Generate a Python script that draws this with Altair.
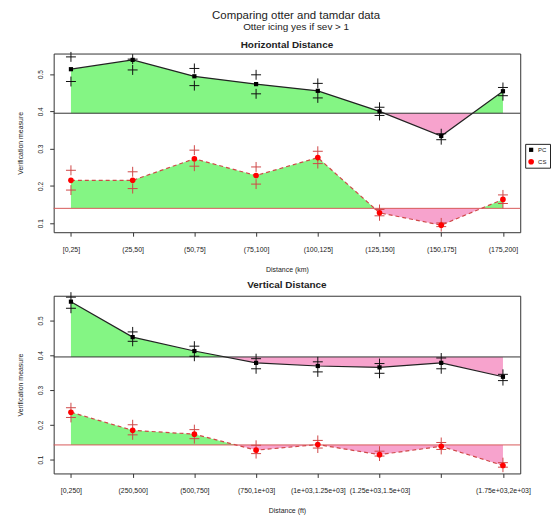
import json
import altair as alt
import pandas as pd

# ---------------- data ----------------
h_labels = ["[0,25]", "(25,50]", "(50,75]", "(75,100]", "(100,125]",
            "(125,150]", "(150,175]", "(175,200]"]
# R dropped the 7th label of the lower panel (overlap), so it is blank here
v_labels = ["[0,250]", "(250,500]", "(500,750]", "(750,1e+03]", "(1e+03,1.25e+03]",
            "(1.25e+03,1.5e+03]", "", "(1.75e+03,2e+03]"]

h_pc = [0.513, 0.538, 0.494, 0.473, 0.455, 0.400, 0.334, 0.454]
h_pc_hi = [0.546, 0.540, 0.515, 0.498, 0.475, 0.411, 0.340, 0.464]
h_pc_lo = [0.480, 0.511, 0.469, 0.447, 0.436, 0.389, 0.324, 0.442]
h_cs = [0.215, 0.215, 0.273, 0.228, 0.276, 0.128, 0.095, 0.164]
h_cs_hi = [0.242, 0.238, 0.296, 0.251, 0.293, 0.137, 0.101, 0.176]
h_cs_lo = [0.189, 0.193, 0.253, 0.205, 0.260, 0.120, 0.091, 0.153]
h_ref_pc = 0.395
h_ref_cs = 0.140

v_pc = [0.554, 0.452, 0.412, 0.378, 0.369, 0.365, 0.378, 0.338]
v_pc_hi = [0.567, 0.467, 0.426, 0.390, 0.381, 0.376, 0.392, 0.345]
v_pc_lo = [0.535, 0.440, 0.397, 0.361, 0.352, 0.348, 0.361, 0.327]
v_cs = [0.236, 0.184, 0.173, 0.127, 0.143, 0.114, 0.138, 0.083]
v_cs_hi = [0.249, 0.200, 0.186, 0.141, 0.155, 0.124, 0.149, 0.091]
v_cs_lo = [0.221, 0.171, 0.160, 0.117, 0.133, 0.110, 0.129, 0.078]
v_ref_pc = 0.395
v_ref_cs = 0.142

series_names = ["PC", "CS"]

# ---------------- styles ----------------
GREEN = "#84F584"
PINK = "#F7A3CD"
CS_RED = "#D04848"
CROSS = "M-1,0L1,0M0,-1L0,1"
FONT = "Liberation Sans"


def series_df(vals, lo, hi, name):
    return pd.DataFrame({"x": list(range(1, len(vals) + 1)), "v": vals,
                         "lo": lo, "hi": hi, "series": name})


def fill_df(vals, ref):
    xs, vs = [], []
    for i, v in enumerate(vals):
        xs.append(i + 1)
        vs.append(v)
        if i + 1 < len(vals):
            w = vals[i + 1]
            if (v - ref) * (w - ref) < 0:
                xs.append(i + 1 + (ref - v) / (w - v))
                vs.append(ref)
    df = pd.DataFrame({"x": xs, "v": vs})
    df["ref"] = ref
    df["up"] = df["v"].clip(lower=ref)
    df["dn"] = df["v"].clip(upper=ref)
    return df


def panel(title, xtitle, labels, pc, pc_lo, pc_hi, cs, cs_lo, cs_hi,
          ref_pc, ref_cs, ydom, height):
    n = len(labels)
    ext = 0.04 * (n - 1)
    xscale = alt.Scale(domain=[1 - ext, n + ext], nice=False, zero=False)
    yscale = alt.Scale(domain=ydom, nice=False, zero=False)
    xaxis = alt.Axis(values=list(range(1, n + 1)),
                     labelExpr=json.dumps(labels) + "[datum.value - 1]",
                     title=xtitle, grid=False, domain=False, tickSize=4,
                     tickColor="#333", labelColor="#222", labelFontSize=7,
                     labelPadding=9.5, labelOverlap=False, labelFlush=False,
                     titleFontSize=7, titleFontWeight="normal", titleColor="#222",
                     titleX=235, titleY=33.5)
    yaxis = alt.Axis(values=[0.1, 0.2, 0.3, 0.4, 0.5], format=".1f",
                     title="Verification measure", grid=False, domain=False,
                     tickSize=4, tickColor="#333", labelColor="#222",
                     labelFontSize=6.5, labelAngle=270, labelAlign="center",
                     labelBaseline="bottom", labelPadding=6.5, labelOverlap=False,
                     titleFontSize=7, titleFontWeight="normal", titleColor="#222",
                     titleX=-30.5, titleY=height / 2)

    def X(f):
        return alt.X(f, type="quantitative", scale=xscale, axis=xaxis)

    def Y(f):
        return alt.Y(f, type="quantitative", scale=yscale, axis=yaxis)

    pcdf = series_df(pc, pc_lo, pc_hi, series_names[0])
    csdf = series_df(cs, cs_lo, cs_hi, series_names[1])

    layers = []
    for fd in (fill_df(pc, ref_pc), fill_df(cs, ref_cs)):
        base = alt.Chart(fd)
        layers.append(base.mark_area(color=GREEN, opacity=1).encode(
            x=X("x"), y=Y("up"), y2=alt.Y2("ref")))
        layers.append(base.mark_area(color=PINK, opacity=1).encode(
            x=X("x"), y=Y("dn"), y2=alt.Y2("ref")))

    layers.append(alt.Chart(pd.DataFrame({"ref": [ref_pc]})).mark_rule(
        color="#333", strokeWidth=1).encode(y=Y("ref")))
    layers.append(alt.Chart(pd.DataFrame({"ref": [ref_cs]})).mark_rule(
        color="#D85A5A", strokeWidth=1).encode(y=Y("ref")))

    layers.append(alt.Chart(pcdf).mark_line(color="#222", strokeWidth=1.2).encode(
        x=X("x"), y=Y("v")))
    layers.append(alt.Chart(csdf).mark_line(color=CS_RED, strokeWidth=1.2,
                                            strokeDash=[4, 3]).encode(
        x=X("x"), y=Y("v")))

    for df, col in ((pcdf, "#111"), (csdf, CS_RED)):
        layers.append(alt.Chart(df).transform_fold(
            ["lo", "hi"], as_=["bound", "bv"]).mark_point(
            shape=CROSS, size=100, filled=False, strokeWidth=1, color=col,
            opacity=1).encode(x=X("x"), y=Y("bv")))

    legend = alt.Legend(title=None, orient="none", legendX=475, legendY=91,
                        strokeColor="#222", fillColor="white", padding=3,
                        labelFontSize=6, labelColor="#222", symbolSize=22,
                        symbolStrokeWidth=0, labelOffset=4, rowPadding=6)
    layers.append(alt.Chart(pd.concat([pcdf, csdf])).mark_point(
        filled=True, opacity=1).encode(
        x=X("x"), y=Y("v"),
        color=alt.Color("series", type="nominal",
                        scale=alt.Scale(domain=series_names, range=["black", "red"]),
                        legend=legend),
        shape=alt.Shape("series", type="nominal",
                        scale=alt.Scale(domain=series_names, range=["square", "circle"]),
                        legend=legend),
        size=alt.Size("series", type="nominal",
                      scale=alt.Scale(domain=series_names, range=[18, 32]),
                      legend=None)))

    return alt.layer(*layers).properties(
        width=470, height=height,
        title=alt.Title(title, fontSize=10, fontWeight="bold", color="#222",
                        offset=0, anchor="middle"))


top = panel("Horizontal Distance", "Distance (km)", h_labels,
            h_pc, h_pc_lo, h_pc_hi, h_cs, h_cs_lo, h_cs_hi,
            h_ref_pc, h_ref_cs, [0.076, 0.555], 180)
bottom = panel("Vertical Distance", "Distance (ft)", v_labels,
               v_pc, v_pc_lo, v_pc_hi, v_cs, v_cs_lo, v_cs_hi,
               v_ref_pc, v_ref_cs, [0.06, 0.571], 179)

chart = alt.vconcat(top, bottom, spacing=6).properties(
    title=alt.Title("Comparing otter and tamdar data",
                    subtitle="Otter icing yes if sev > 1",
                    fontSize=11.5, fontWeight="normal", color="#222",
                    subtitleFontSize=10, subtitleColor="#222",
                    subtitlePadding=0, anchor="middle", offset=8, dx=13),
    padding={"left": 8, "top": 0, "right": 0, "bottom": 0},
).configure(font=FONT).configure_view(stroke="#333", strokeWidth=1)

chart.save("out.html", embed_options={"renderer": "svg", "actions": False})
